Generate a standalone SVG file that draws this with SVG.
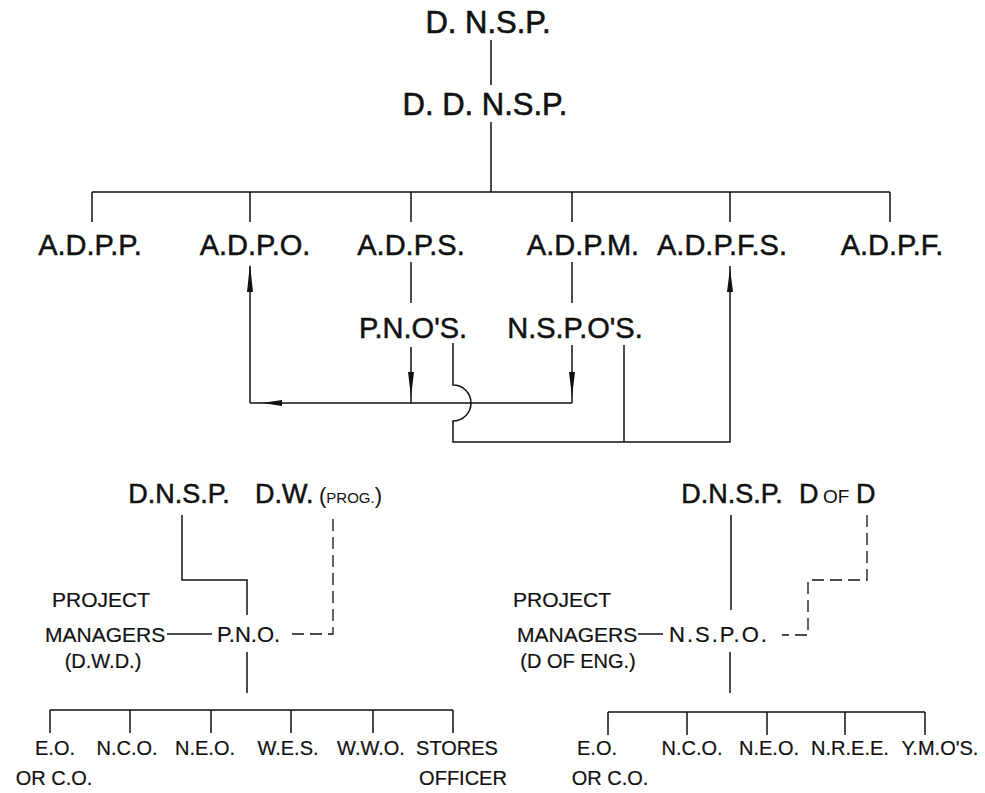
<svg xmlns="http://www.w3.org/2000/svg" width="985" height="793" viewBox="0 0 985 793">
<style>
text{font-family:"Liberation Sans",Arial,sans-serif;fill:#111;}
.big{font-size:31px;stroke:#111;stroke-width:0.6;}
.mid{font-size:29px;stroke:#111;stroke-width:0.5;}
.hd{font-size:27px;stroke:#111;stroke-width:0.5;}
.sm{font-size:21px;stroke:#111;stroke-width:0.2;}
.xs{font-size:20px;stroke:#111;stroke-width:0.2;}
.c{text-anchor:middle;}
.ln{fill:none;stroke:#111;stroke-width:1.5;}
.dash{fill:none;stroke:#111;stroke-width:1.3;stroke-dasharray:12,6;}
.ah{fill:#111;stroke:none;}
</style>
<rect width="985" height="793" fill="#fff"/>
<g id="connectors">
  <path class="ln" d="M491 40V85M491 122V192M92 192H890M92 192V222M250 192V222M411 192V222M572 192V222M730 192V222M890 192V222"/>
  <path class="ln" d="M411 262V303M572 262V303"/>
  <path class="ln" d="M411 347V403M572 345V403M250 403H572M250 403V266"/>
  <path class="ln" d="M453 343V385A18 18 0 0 1 453 421V442H730V266M624 345V442"/>
  <polygon class="ah" points="250,264 253,292 247,292"/>
  <polygon class="ah" points="730,268 733,292 727,292"/>
  <polygon class="ah" points="411,397 408,372 414,372"/>
  <polygon class="ah" points="572,397 569,372 575,372"/>
  <polygon class="ah" points="262,403 282,400 282,406"/>
  <path class="ln" d="M182 515V580H247V615M247 652V693M50 710H453M50 710V733M130 710V733M211 710V733M291 710V733M373 710V733M453 710V733M167 634H212"/>
  <path class="dash" d="M292 634H333V515"/>
  <path class="ln" d="M731 515V610M730 652V693M608 712H925M608 712V735M687 712V735M767 712V735M845 712V735M925 712V735M638 634H663"/>
  <path class="dash" d="M867 515V580H808V635H782"/>
</g>
<g id="dnsp"><text class="big c" x="488" y="33">D. N.S.P.</text></g>
<g id="ddnsp"><text class="big c" x="485" y="115">D. D. N.S.P.</text></g>
<g id="adpp"><text class="mid c" x="90" y="255">A.D.P.P.</text></g>
<g id="adpo"><text class="mid c" x="255" y="255">A.D.P.O.</text></g>
<g id="adps"><text class="mid c" x="411" y="255">A.D.P.S.</text></g>
<g id="adpm"><text class="mid c" x="583" y="255">A.D.P.M.</text></g>
<g id="adpfs"><text class="mid c" x="722" y="255">A.D.P.F.S.</text></g>
<g id="adpf"><text class="mid c" x="892" y="255">A.D.P.F.</text></g>
<g id="pnos"><text class="mid c" x="413" y="338">P.N.O'S.</text></g>
<g id="nspos"><text class="mid c" x="575" y="338">N.S.P.O'S.</text></g>

<g id="l-dnsp"><text class="hd c" x="179" y="503">D.N.S.P.</text></g>
<g id="l-dw"><text class="hd" x="255" y="503">D.W.</text><text x="319" y="503"><tspan style="font-size:22px">(</tspan><tspan style="font-size:15px">PROG.</tspan><tspan style="font-size:22px">)</tspan></text></g>
<g id="l-pm"><text class="sm" x="52" y="607">PROJECT</text><text class="sm" x="45" y="642">MANAGERS</text><text class="xs c" x="103" y="668">(D.W.D.)</text></g>
<g id="l-pno"><text class="sm" x="217" y="642" style="font-size:22px">P.N.O.</text></g>
<g id="l-eo"><text class="xs c" x="55" y="755">E.O.</text><text class="xs c" x="54" y="785">OR C.O.</text></g>
<g id="l-nco"><text class="xs c" x="127" y="755">N.C.O.</text></g>
<g id="l-neo"><text class="xs c" x="205" y="755">N.E.O.</text></g>
<g id="l-wes"><text class="xs c" x="288" y="755">W.E.S.</text></g>
<g id="l-wwo"><text class="xs c" x="371" y="755">W.W.O.</text></g>
<g id="l-so"><text class="xs c" x="457" y="755">STORES</text><text class="xs c" x="463" y="785">OFFICER</text></g>

<g id="r-dnsp"><text class="hd c" x="732" y="503">D.N.S.P.</text></g>
<g id="r-dofd"><text class="hd" x="799" y="503">D</text><text style="font-size:19px" x="823" y="503">OF</text><text class="hd" x="856" y="503">D</text></g>
<g id="r-pm"><text class="sm" x="513" y="607">PROJECT</text><text class="sm" x="517" y="642">MANAGERS</text><text class="xs c" x="578" y="668">(D OF ENG.)</text></g>
<g id="r-nspo"><text class="sm" x="669" y="642" style="font-size:22px;letter-spacing:2px">N.S.P.O.</text></g>
<g id="r-eo"><text class="xs c" x="597" y="755">E.O.</text><text class="xs c" x="610" y="785">OR C.O.</text></g>
<g id="r-nco"><text class="xs c" x="692" y="755">N.C.O.</text></g>
<g id="r-neo"><text class="xs c" x="769" y="755">N.E.O.</text></g>
<g id="r-nree"><text class="xs c" x="850" y="755">N.R.E.E.</text></g>
<g id="r-ymos"><text class="xs c" x="940" y="755">Y.M.O'S.</text></g>
</svg>
